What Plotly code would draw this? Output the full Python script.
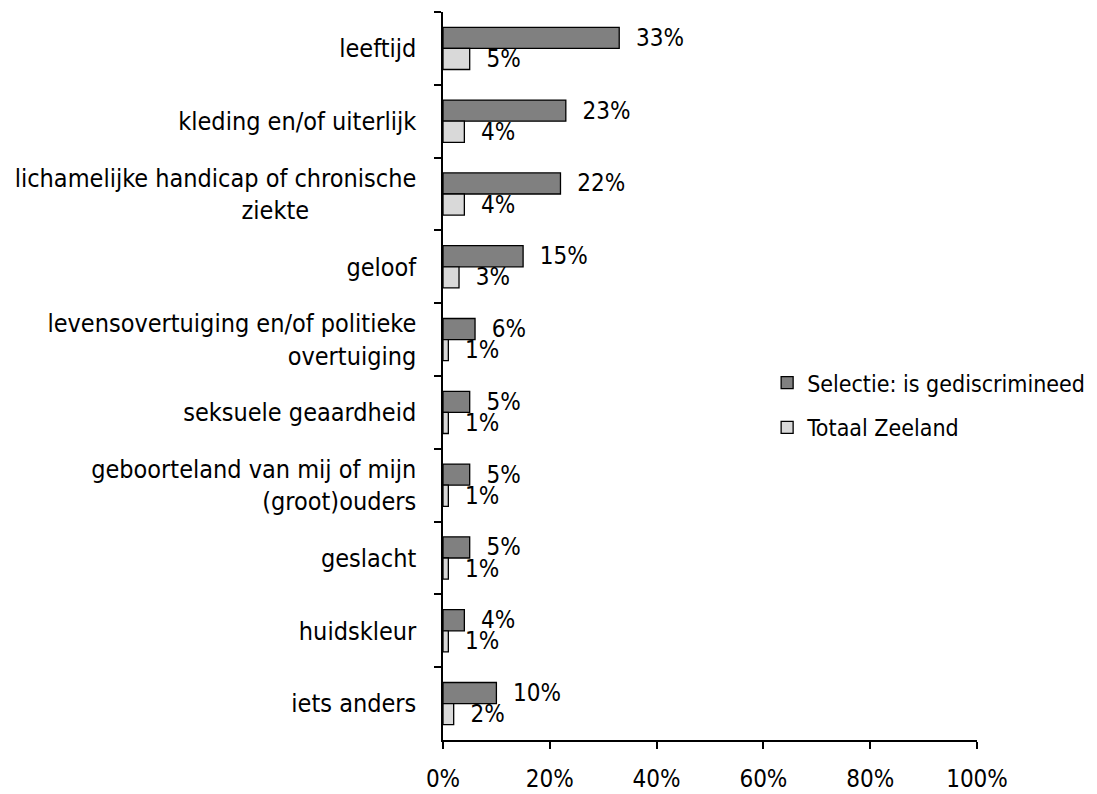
import plotly.graph_objects as go

categories = [
    "leeftijd",
    "kleding en/of uiterlijk",
    "lichamelijke handicap of chronische<br>ziekte" + "\u00a0" * 15,
    "geloof",
    "levensovertuiging en/of politieke<br>overtuiging",
    "seksuele geaardheid",
    "geboorteland van mij of mijn<br>(groot)ouders",
    "geslacht",
    "huidskleur",
    "iets anders",
]
selectie = [33, 23, 22, 15, 6, 5, 5, 5, 4, 10]
totaal = [5, 4, 4, 3, 1, 1, 1, 1, 1, 2]
series_names = ["Selectie: is gediscrimineed", "Totaal Zeeland"]
x_ticks = [0, 20, 40, 60, 80, 100]
x_ticklabels = ["0%", "20%", "40%", "60%", "80%", "100%"]

FONT = "DejaVu Sans Condensed"
PAD = "\u00a0\u00a0"

fig = go.Figure()
for name, vals, color, grp in [
    (series_names[0], selectie, "#808080", "a"),
    (series_names[1], totaal, "#D9D9D9", "b"),
]:
    fig.add_trace(go.Bar(
        y=categories, x=vals, name=name, orientation="h",
        marker=dict(color=color, line=dict(color="black", width=1.3)),
        text=[f"{PAD}{v}%" for v in vals],
        textposition="outside",
        constraintext="none",
        textfont=dict(family=FONT, size=24, color="black"),
        cliponaxis=False,
        legendgroup=grp,
    ))

fig.update_layout(
    width=1097, height=794,
    margin=dict(l=435, r=128, t=4, b=62, autoexpand=False),
    plot_bgcolor="white", paper_bgcolor="white",
    barmode="group", bargap=0.42, bargroupgap=0,
    font=dict(family=FONT, size=22, color="black"),
    showlegend=True,
    legend=dict(
        x=0.607, y=0.46, xanchor="left", yanchor="middle",
        font=dict(family=FONT, size=23, color="black"),
        traceorder="grouped", tracegroupgap=12,
        itemwidth=30, bgcolor="rgba(0,0,0,0)",
    ),
    uniformtext=dict(mode=False),
)
fig.update_yaxes(
    autorange="reversed", type="category", automargin=False,
    showline=True, linecolor="black", linewidth=1.5,
    ticks="outside", tickson="boundaries", ticklen=7, tickcolor="black", tickwidth=1.5,
    ticklabelstandoff=20, showgrid=False, zeroline=False,
    tickfont=dict(family=FONT, size=25, color="black"),
)
fig.update_xaxes(
    range=[0, 100], tickvals=x_ticks, ticktext=x_ticklabels, automargin=False,
    showline=True, linecolor="black", linewidth=1.5,
    ticks="outside", ticklen=7, tickcolor="black", tickwidth=1.5,
    ticklabelstandoff=9, showgrid=False, zeroline=False,
    tickfont=dict(family=FONT, size=24, color="black"),
)

fig.write_html("out.html")
